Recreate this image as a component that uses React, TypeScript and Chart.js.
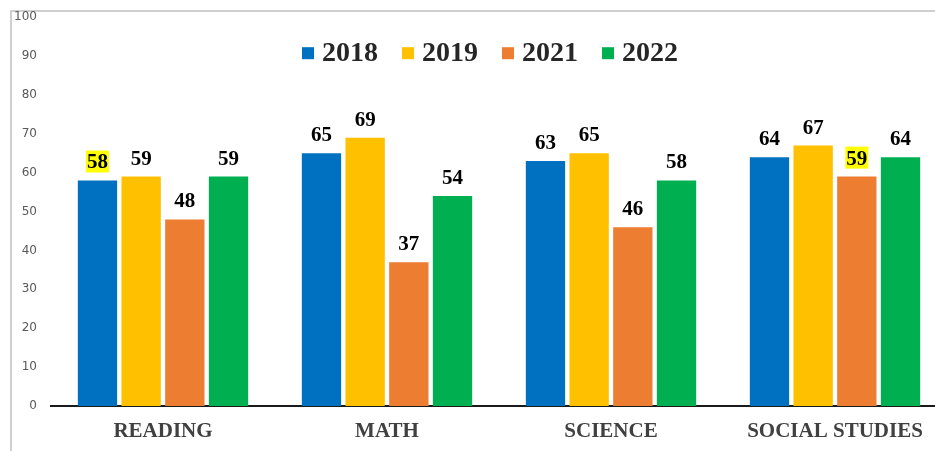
import React, { useEffect, useRef } from "react";
import { Chart, registerables } from "chart.js";

Chart.register(...registerables);

const categories = ["READING", "MATH", "SCIENCE", "SOCIAL STUDIES"];
const seriesNames = ["2018", "2019", "2021", "2022"];
const values2018 = [58, 65, 63, 64];
const values2019 = [59, 69, 65, 67];
const values2021 = [48, 37, 46, 59];
const values2022 = [59, 54, 58, 64];
const seriesColors = ["#0070C0", "#FFC000", "#ED7D31", "#00B050"];
const yTicks = [0, 10, 20, 30, 40, 50, 60, 70, 80, 90, 100];
// [datasetIndex, categoryIndex] of labels shown with a yellow highlight
const highlightedLabels: [number, number][] = [
  [0, 0],
  [2, 3],
];

const SERIF = "'Liberation Serif', 'Times New Roman', serif";

const labelsPlugin = {
  id: "customLabels",
  afterDatasetsDraw(chart: any) {
    const ctx = chart.ctx;
    ctx.save();
    ctx.font = `bold 21px ${SERIF}`;
    ctx.textAlign = "center";
    ctx.textBaseline = "alphabetic";
    chart.data.datasets.forEach((ds: any, di: number) => {
      const meta = chart.getDatasetMeta(di);
      meta.data.forEach((bar: any, i: number) => {
        const text = String(ds.data[i]);
        const x = bar.x;
        const y = bar.y - 12;
        const hl = highlightedLabels.some(([a, b]) => a === di && b === i);
        if (hl) {
          const w = ctx.measureText(text).width;
          ctx.fillStyle = "#FFFF00";
          ctx.fillRect(x - w / 2 - 1, y - 18, w + 2, 22);
        }
        ctx.fillStyle = "#000000";
        ctx.fillText(text, x, y);
      });
    });

    // legend
    ctx.font = `bold 28px ${SERIF}`;
    ctx.textAlign = "left";
    const box = 12;
    const gapBoxText = 8;
    const gapItems = 24;
    const items = chart.data.datasets.map((ds: any) => ({
      label: ds.label,
      color: ds.backgroundColor,
      w: box + gapBoxText + ctx.measureText(ds.label).width,
    }));
    const total =
      items.reduce((s: number, it: any) => s + it.w, 0) + gapItems * (items.length - 1);
    const ca = chart.chartArea;
    let x = (ca.left + ca.right) / 2 - 9 - total / 2;
    const baseY = ca.top + 44;
    items.forEach((it: any) => {
      ctx.fillStyle = it.color;
      ctx.fillRect(x, baseY - 14, box, box);
      ctx.fillStyle = "#262626";
      ctx.fillText(it.label, x + box + gapBoxText, baseY);
      x += it.w + gapItems;
    });
    ctx.restore();
  },
};

export default function App() {
  const canvasRef = useRef<HTMLCanvasElement | null>(null);

  useEffect(() => {
    if (!canvasRef.current) return;
    const seriesValues = [values2018, values2019, values2021, values2022];
    const chart = new Chart(canvasRef.current, {
      type: "bar",
      data: {
        labels: categories,
        datasets: seriesNames.map((name, i) => ({
          label: name,
          data: seriesValues[i],
          backgroundColor: seriesColors[i],
          borderWidth: 0,
          categoryPercentage: 0.78,
          barPercentage: 0.9,
        })),
      },
      options: {
        animation: false,
        responsive: false,
        maintainAspectRatio: false,
        layout: { padding: { top: 6, right: 10, bottom: 0, left: 0 } },
        plugins: {
          legend: { display: false },
          title: { display: false },
          tooltip: { enabled: false },
        },
        scales: {
          x: {
            grid: { display: false, drawTicks: false },
            border: { display: true, color: "#1a1a1a", width: 2 },
            ticks: {
              color: "#404040",
              font: { family: SERIF, size: 21, weight: "bold" },
              padding: 13,
              maxRotation: 0,
              autoSkip: false,
            },
            afterFit: (scale: any) => {
              scale.height = 45;
            },
          },
          y: {
            min: 0,
            max: 100,
            grid: { display: false, drawTicks: false },
            border: { display: false },
            afterBuildTicks: (scale: any) => {
              scale.ticks = yTicks.map((v) => ({ value: v }));
            },
            ticks: {
              color: "#595959",
              font: { family: "'DejaVu Sans', Verdana, sans-serif", size: 12 },
              padding: 14,
            },
            afterFit: (scale: any) => {
              scale.width = 39;
            },
          },
        },
      },
      plugins: [labelsPlugin],
    });
    return () => chart.destroy();
  }, []);

  return (
    <div
      style={{
        position: "fixed",
        left: 0,
        top: 0,
        width: 935,
        height: 451,
        overflow: "hidden",
        background: "#ffffff",
      }}
    >
      <div
        style={{
          position: "absolute",
          left: 10,
          top: 10,
          width: 960,
          height: 441,
          borderLeft: "2px solid #cfcfcf",
          borderTop: "2px solid #cfcfcf",
        }}
      >
        <canvas
          ref={canvasRef}
          width={945}
          height={455}
          style={{
            display: "block",
            position: "absolute",
            left: 0,
            top: -16,
            width: 945,
            height: 455,
          }}
        />
      </div>
    </div>
  );
}
